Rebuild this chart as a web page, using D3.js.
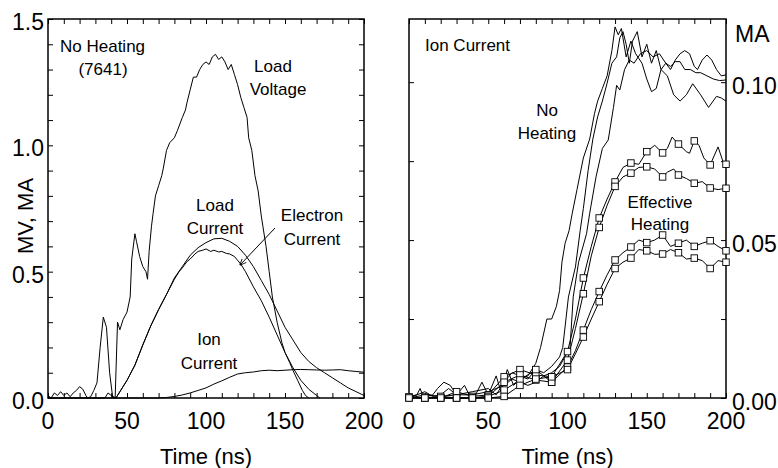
<!DOCTYPE html>
<html>
<head>
<meta charset="utf-8">
<script src="https://cdn.jsdelivr.net/npm/d3@7"></script>
<style>
  body { margin: 0; background: #fff; }
  svg { display: block; font-family: 'Liberation Sans', Arial, sans-serif; }
  .tick line { stroke: #000; stroke-width: 1; }
  .trace { fill: none; stroke: #000; stroke-width: 1; stroke-linejoin: round; }
</style>
</head>
<body>
<svg id="chart" width="778" height="468"></svg>
<script>
// ---- data (time in ns, values in MV or MA) ----
const xTicks = d3.range(0, 201, 10);
const xLabels = [0, 50, 100, 150, 200];
const leftTicks = d3.range(0, 16).map((i) => i / 10);
const leftLabels = [0, 0.5, 1.0, 1.5];
const rightTicks = [0, 0.025, 0.05, 0.075, 0.1];
const rightLabels = [0, 0.05, 0.1];

const loadVoltage = [[0,0.01],[2,0],[4,0.02],[6,0.01],[8,0.025],[10,0.01],[12,0.02],[14,0.005],[16,0.02],[18,0.03],[20,0.045],[22,0.035],[24,0.01],[25,0],[27,0.005],[29,0.03],[31,0.06],[33,0.2],[35,0.32],[37,0.28],[39,0.1],[41,0],[42.5,0],[44,0.3],[45.5,0.27],[47.5,0.31],[50,0.34],[52,0.4],[53,0.55],[55,0.65],[56,0.62],[58,0.56],[60,0.52],[62,0.5],[63,0.47],[64,0.58],[65.5,0.68],[66.5,0.73],[68,0.8],[70,0.84],[72,0.88],[73,0.91],[75,0.98],[77,1.01],[80,1.03],[82,1.06],[85,1.11],[87,1.14],[88,1.17],[90,1.22],[92,1.27],[94,1.27],[96,1.3],[98,1.32],[100,1.33],[102,1.32],[104,1.35],[106,1.36],[108,1.34],[110,1.35],[112,1.33],[114,1.3],[116,1.32],[118,1.28],[120,1.24],[122,1.19],[124,1.15],[126,1.11],[127,1.03],[129,0.98],[131,0.88],[133,0.82],[135,0.72],[136,0.68],[138,0.6],[140,0.5],[142,0.4],[145,0.3],[148,0.22],[150,0.18],[153,0.14],[155,0.11],[158,0.07],[161,0.03],[163,0.01],[165,0]];
const loadCurrent = [[0,0],[36,0],[38,0.02],[40,0.01],[43,0],[47,0.04],[50,0.07],[55,0.13],[60,0.21],[65,0.285],[70,0.35],[75,0.41],[80,0.475],[85,0.52],[90,0.565],[95,0.595],[100,0.615],[105,0.63],[110,0.632],[115,0.62],[120,0.6],[125,0.565],[130,0.52],[135,0.465],[140,0.41],[145,0.345],[150,0.28],[155,0.23],[160,0.18],[165,0.145],[170,0.12],[175,0.1],[180,0.08],[185,0.06],[190,0.04],[195,0.025],[200,0.01]];
const electronCurrent = [[43,0],[47,0.04],[50,0.07],[55,0.13],[60,0.21],[65,0.285],[70,0.35],[75,0.41],[80,0.47],[83,0.5],[85,0.515],[88,0.54],[90,0.55],[93,0.57],[95,0.58],[98,0.585],[100,0.59],[103,0.58],[105,0.585],[108,0.578],[110,0.58],[113,0.572],[115,0.57],[118,0.56],[120,0.545],[122,0.53],[125,0.5],[130,0.44],[135,0.385],[140,0.32],[145,0.25],[150,0.18],[155,0.12],[160,0.07],[165,0.035],[170,0.01],[172,0]];
const ionCurrentLeft = [[0,0],[70,0],[75,0.002],[80,0.006],[85,0.012],[90,0.02],[95,0.03],[100,0.04],[105,0.055],[110,0.068],[115,0.082],[120,0.095],[125,0.1],[130,0.103],[135,0.108],[140,0.11],[145,0.108],[150,0.11],[155,0.112],[160,0.113],[165,0.112],[170,0.111],[175,0.11],[180,0.111],[185,0.112],[190,0.108],[195,0.105],[200,0.102]];

// right panel: no heating shots (plain) and effective heating shots (squares)
const noHeatA = [[0,0.0005],[5,0.001],[7,0.003],[9,0.0005],[15,0.001],[18,0.003],[22,0.005],[26,0.004],[30,0.001],[35,0.004],[38,0.001],[42,0.001],[46,0.005],[50,0.001],[55,0.007],[58,0.002],[62,0.009],[66,0.004],[70,0.006],[75,0.007],[80,0.011],[83,0.016],[87,0.025],[90,0.025],[93,0.029],[95,0.034],[96.5,0.043],[98.5,0.049],[101,0.053],[103,0.0585],[106,0.066],[110,0.076],[114,0.082],[117,0.09],[119,0.094],[122,0.098],[125,0.102],[128,0.11],[130,0.1175],[132,0.115],[134,0.117],[137,0.108],[140,0.113],[143,0.109],[147,0.106],[150,0.101],[153,0.097],[156,0.098],[159,0.104],[163,0.102],[167,0.096],[171,0.094],[175,0.096],[179,0.0995],[184,0.096],[189,0.092],[194,0.0955],[197,0.095],[200,0.094]];
const noHeatB = [[0,0],[5,0.001],[10,0.002],[15,0.0005],[20,0.001],[25,0.003],[30,0.001],[40,0.002],[50,0.003],[55,0.001],[60,0.005],[65,0.008],[70,0.007],[75,0.006],[80,0.009],[85,0.008],[90,0.01],[95,0.013],[97,0.016],[100.6,0.032],[105,0.0415],[108,0.053],[110,0.06],[113,0.072],[116,0.082],[119,0.089],[122,0.094],[125,0.0997],[128,0.106],[131,0.108],[133,0.114],[135,0.116],[137,0.112],[139,0.106],[141,0.113],[144,0.116],[147,0.108],[150,0.112],[153,0.106],[156,0.11],[159,0.104],[162,0.106],[165,0.104],[168,0.107],[171,0.109],[174,0.11],[177,0.109],[180,0.105],[182,0.104],[185,0.107],[188,0.1086],[191,0.107],[194,0.104],[197,0.102],[200,0.1023]];
const noHeatC = [[0,0],[10,0.001],[20,0.0005],[30,0.001],[40,0.001],[50,0.002],[60,0.004],[65,0.006],[70,0.005],[75,0.004],[80,0.005],[85,0.007],[90,0.008],[95,0.01],[101.6,0.016],[103.6,0.032],[107,0.043],[112,0.052],[114,0.0585],[118,0.07],[122,0.079],[125.7,0.0817],[129,0.092],[131,0.099],[133,0.0975],[136,0.104],[139,0.107],[142,0.106],[146,0.109],[150,0.11],[154,0.108],[158,0.109],[162,0.106],[165,0.105],[168,0.1065],[171,0.1065],[174,0.104],[177.5,0.104],[181,0.103],[184,0.103],[188,0.102],[192,0.101],[196,0.1005],[200,0.1007]];
const heatUpper1 = [[0,0.0003],[10,0],[20,0],[30,0.002],[40,0.0005],[50,0.001],[60,0.0067],[70,0.009],[80,0.0073],[90,0.0067],[100,0.0147],[105,0.025],[110,0.038],[115,0.048],[120,0.057],[125,0.063],[130,0.0684],[135,0.073],[140,0.0744],[145,0.074],[150,0.078],[155,0.08],[160,0.0776],[163,0.079],[166,0.0826],[170,0.0804],[175,0.078],[177,0.0775],[180,0.0814],[183,0.08],[186,0.076],[190,0.0738],[195,0.0795],[198,0.075],[200,0.074]];
const heatUpper2 = [[0,0],[10,0.0003],[20,0],[30,0],[40,0],[50,0.0005],[60,0.005],[70,0.0073],[80,0.0057],[90,0.005],[100,0.012],[105,0.022],[110,0.033],[115,0.045],[120,0.054],[125,0.061],[130,0.067],[135,0.07],[140,0.0712],[145,0.073],[150,0.0732],[155,0.0725],[160,0.07],[163,0.0715],[167,0.0725],[170,0.0706],[175,0.0695],[180,0.068],[185,0.0685],[190,0.0665],[195,0.066],[200,0.0664]];
const heatLower1 = [[0,0.0003],[10,0],[20,0.0005],[30,0],[40,0],[50,0.0005],[60,0.0025],[70,0.0057],[80,0.009],[90,0.005],[100,0.0098],[105,0.015],[110,0.0215],[115,0.028],[120,0.0337],[125,0.039],[130,0.0437],[135,0.046],[140,0.0478],[145,0.05],[150,0.0492],[155,0.05],[160,0.0516],[165,0.048],[170,0.049],[175,0.05],[180,0.048],[185,0.049],[190,0.0498],[195,0.048],[200,0.0466]];
const heatLower2 = [[0,0],[10,0],[20,0],[30,0],[40,0],[50,0],[60,0.0005],[70,0.004],[80,0.006],[90,0.0067],[100,0.009],[105,0.014],[110,0.0193],[115,0.025],[120,0.0305],[125,0.036],[130,0.041],[135,0.043],[140,0.0443],[145,0.047],[150,0.0466],[155,0.0455],[160,0.0456],[165,0.047],[170,0.046],[175,0.044],[180,0.0443],[185,0.0435],[190,0.041],[195,0.0435],[200,0.043]];

const svg = d3.select('#chart');
const plotTop = 19;
const plotBottom = 398;

// ---- left panel ----
const xL = d3.scaleLinear().domain([0, 200]).range([48, 364]);
const yL = d3.scaleLinear().domain([0, 1.5]).range([plotBottom, plotTop]);
const lineL = d3.line().x((d) => xL(d[0])).y((d) => yL(d[1]));

// ---- right panel ----
const xR = d3.scaleLinear().domain([0, 200]).range([409, 726]);
const yR = d3.scaleLinear().domain([0, 0.12]).range([plotBottom, plotTop]);
const lineR = d3.line().x((d) => xR(d[0])).y((d) => yR(d[1]));

function noDomain(g) {
	g.select('.domain').remove();
}

function panelAxes(x, y, yTicks) {
	svg.append('g')
		.attr('transform', `translate(0,${plotBottom})`)
		.call(d3.axisBottom(x).tickValues(xTicks).tickSize(-5).tickFormat(''))
		.call(noDomain);
	svg.append('g')
		.attr('transform', `translate(0,${plotTop})`)
		.call(d3.axisTop(x).tickValues(xTicks).tickSize(-5).tickFormat(''))
		.call(noDomain);
	svg.append('g')
		.attr('transform', `translate(${x.range()[0]},0)`)
		.call(d3.axisLeft(y).tickValues(yTicks).tickSize(-5).tickFormat(''))
		.call(noDomain);
	svg.append('g')
		.attr('transform', `translate(${x.range()[1]},0)`)
		.call(d3.axisRight(y).tickValues(yTicks).tickSize(-5).tickFormat(''))
		.call(noDomain);
	svg.append('rect')
		.attr('x', x.range()[0])
		.attr('y', plotTop)
		.attr('width', x.range()[1] - x.range()[0])
		.attr('height', plotBottom - plotTop)
		.attr('fill', 'none')
		.attr('stroke', '#000')
		.attr('stroke-width', 1.5);

	// x tick labels
	svg.append('g')
		.selectAll('text')
		.data(xLabels)
		.join('text')
		.attr('x', (d) => x(d))
		.attr('y', 429)
		.attr('text-anchor', 'middle')
		.attr('font-size', 23)
		.text((d) => d);
	svg.append('text')
		.attr('x', (x.range()[0] + x.range()[1]) / 2)
		.attr('y', 464)
		.attr('text-anchor', 'middle')
		.attr('font-size', 22)
		.text('Time (ns)');
}

panelAxes(xL, yL, leftTicks);
panelAxes(xR, yR, rightTicks);

// left y labels
svg.append('g')
	.selectAll('text')
	.data(leftLabels)
	.join('text')
	.attr('x', 44)
	.attr('y', (d) => yL(d) + 11)
	.attr('text-anchor', 'end')
	.attr('font-size', 23)
	.text((d) => d.toFixed(1));
svg.append('text')
	.attr('transform', 'translate(33,216) rotate(-90)')
	.attr('text-anchor', 'middle')
	.attr('font-size', 22)
	.text('MV, MA');

// right y labels
svg.append('g')
	.selectAll('text')
	.data(rightLabels)
	.join('text')
	.attr('x', 732)
	.attr('y', (d) => yR(d) + 12)
	.attr('font-size', 23)
	.text((d) => d.toFixed(2));
svg.append('text')
	.attr('x', 735)
	.attr('y', 42)
	.attr('font-size', 23)
	.text('MA');

// left traces
[loadVoltage, loadCurrent, electronCurrent, ionCurrentLeft].forEach((s) => {
	svg.append('path').attr('class', 'trace').attr('d', lineL(s));
});

// right traces
[noHeatA, noHeatB, noHeatC, heatUpper1, heatUpper2, heatLower1, heatLower2].forEach((s) => {
	svg.append('path').attr('class', 'trace').attr('d', lineR(s));
});
[heatUpper1, heatUpper2, heatLower1, heatLower2].forEach((s) => {
	svg.append('g')
		.selectAll('rect')
		.data(s.filter((d) => d[0] % 10 === 0))
		.join('rect')
		.attr('x', (d) => xR(d[0]) - 3.25)
		.attr('y', (d) => yR(d[1]) - 3.25)
		.attr('width', 6.5)
		.attr('height', 6.5)
		.attr('fill', '#fff')
		.attr('stroke', '#000')
		.attr('stroke-width', 0.9);
});

// annotations
const notes = [
	{ x: 60, y: 52, t: 'No Heating', a: 'start' },
	{ x: 103, y: 75, t: '(7641)', a: 'middle' },
	{ x: 273, y: 72, t: 'Load', a: 'middle' },
	{ x: 278, y: 95, t: 'Voltage', a: 'middle' },
	{ x: 215, y: 211, t: 'Load', a: 'middle' },
	{ x: 215, y: 234, t: 'Current', a: 'middle' },
	{ x: 312, y: 221, t: 'Electron', a: 'middle' },
	{ x: 312, y: 245, t: 'Current', a: 'middle' },
	{ x: 209, y: 345, t: 'Ion', a: 'middle' },
	{ x: 209, y: 369, t: 'Current', a: 'middle' },
	{ x: 425, y: 51, t: 'Ion Current', a: 'start' },
	{ x: 547, y: 116, t: 'No', a: 'middle' },
	{ x: 547, y: 139, t: 'Heating', a: 'middle' },
	{ x: 660, y: 208, t: 'Effective', a: 'middle' },
	{ x: 660, y: 230, t: 'Heating', a: 'middle' },
];
svg.append('g')
	.selectAll('text')
	.data(notes)
	.join('text')
	.attr('x', (d) => d.x)
	.attr('y', (d) => d.y)
	.attr('text-anchor', (d) => d.a)
	.attr('font-size', 17)
	.text((d) => d.t);

// arrow to electron current
svg.append('defs')
	.append('marker')
	.attr('id', 'head')
	.attr('viewBox', '0 0 10 10')
	.attr('refX', 9)
	.attr('refY', 5)
	.attr('markerWidth', 7)
	.attr('markerHeight', 7)
	.attr('orient', 'auto')
	.append('path')
	.attr('d', 'M0,1 L10,5 L0,9')
	.attr('fill', 'none')
	.attr('stroke', '#000')
	.attr('stroke-width', 1.2);
svg.append('line')
	.attr('x1', 275)
	.attr('y1', 228)
	.attr('x2', 240)
	.attr('y2', 265)
	.attr('stroke', '#000')
	.attr('stroke-width', 1)
	.attr('marker-end', 'url(#head)');
</script>
</body>
</html>
